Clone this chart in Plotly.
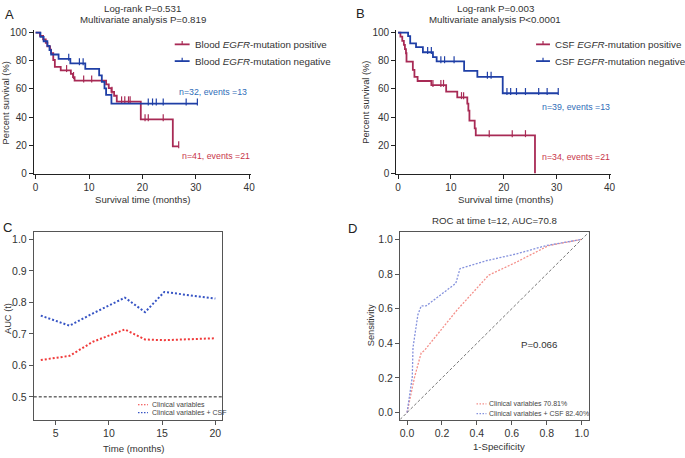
import plotly.graph_objects as go

W, H = 685, 458
FONT = "Liberation Sans, Arial, sans-serif"

# ---------------- Panel A data (Blood) ----------------
a_pos_t = [0, 0.8, 1.4, 1.9, 2.2, 2.7, 2.9, 3.3, 3.6, 4.7, 6.6, 7.0, 7.3, 13.2, 13.7, 14.2, 14.7, 15.2, 19.7, 25.7]
a_pos_s = [100, 97.6, 95.1, 92.7, 90.2, 87.8, 85.4, 80.5, 75.6, 73.2, 70.7, 68.3, 65.8, 63.2, 60.5, 57.8, 55.1, 51.0, 38.3, 19.1]
a_pos_end = 26.8
a_pos_cens = [5.8, 7.1, 9.0, 10.5, 14.3, 16.1, 16.7, 17.4, 17.7, 20.5, 21.1, 23.9, 26.8]

a_neg_t = [0, 0.9, 1.5, 2.2, 2.6, 2.9, 4.3, 6.5, 9.3, 11.9, 12.4, 12.9, 13.2, 14.2]
a_neg_s = [100, 96.9, 93.8, 90.6, 87.5, 84.4, 81.3, 78.1, 74.2, 69.6, 65.0, 60.3, 55.7, 49.5]
a_neg_end = 30.3
a_neg_cens = [6.2, 8.2, 8.9, 21.1, 21.9, 22.6, 23.9, 28.2, 30.3]

# ---------------- Panel B data (CSF) ----------------
b_pos_t = [0, 0.45, 0.8, 1.1, 1.3, 1.5, 1.6, 2.8, 3.1, 3.7, 6.3, 9.1, 11.2, 13.1, 13.3, 13.5, 14.5, 14.7, 25.9]
b_pos_s = [100, 97.1, 94.1, 91.2, 88.2, 85.3, 79.4, 73.5, 68.5, 65.6, 62.7, 58.0, 54.0, 49.5, 44.5, 37.4, 32.0, 27.0, 0]
b_pos_end = 25.9
b_pos_cens = [6.6, 8.1, 8.6, 12.0, 12.4, 17.25, 21.6, 24.1]

b_neg_t = [0, 1.9, 2.3, 3.4, 4.7, 6.6, 7.3, 12.5, 15.0, 19.8]
b_neg_s = [100, 97.4, 92.3, 89.7, 86.0, 82.5, 79.5, 72.8, 68.5, 56.9]
b_neg_end = 30.3
b_neg_cens = [5.6, 6.3, 8.1, 8.8, 10.6, 16.9, 17.6, 20.6, 21.3, 22.4, 24.1, 26.6, 28.2, 30.3]

# ---------------- Panel C data (time-dependent AUC) ----------------
c_time = [3.6, 6.3, 8.5, 11.5, 13.4, 15.2, 20.0]
c_auc_clin = [0.617, 0.630, 0.675, 0.714, 0.682, 0.680, 0.686]
c_auc_csf = [0.758, 0.726, 0.765, 0.815, 0.769, 0.833, 0.812]

# ---------------- Panel D data (ROC at t=12) ----------------
d_fpr_clin = [0.0, 0.043, 0.081, 0.098, 0.288, 0.467, 0.627, 0.81, 1.0]
d_tpr_clin = [0.0, 0.205, 0.345, 0.357, 0.594, 0.793, 0.869, 0.964, 1.0]
d_fpr_csf = [0.0, 0.03, 0.034, 0.062, 0.081, 0.109, 0.279, 0.303, 0.458, 0.627, 0.795, 1.0]
d_tpr_csf = [0.0, 0.205, 0.375, 0.565, 0.616, 0.616, 0.746, 0.831, 0.878, 0.916, 0.964, 1.0]

RED_KM = "#A82A55"
BLUE_KM = "#1F3FA6"
RED_TXT = "#C8364A"
BLUE_TXT = "#2F6DB8"
RED_C = "#F03A3A"
BLUE_C = "#3654C4"
RED_D = "#F4908A"
BLUE_D = "#8592DD"


def px(x):
    return x / W


def py(y):
    return 1 - y / H


def step_at(ts, ss, t):
    v = ss[0]
    for ti, si in zip(ts, ss):
        if ti <= t:
            v = si
    return v


fig = go.Figure()


def km(ts, ss, end, cens, color, xa, ya):
    xs = list(ts) + [end]
    ys = list(ss) + [ss[-1]]
    fig.add_trace(go.Scatter(x=xs, y=ys, mode="lines", line=dict(color=color, width=1.8, shape="hv"),
                             xaxis=xa, yaxis=ya, showlegend=False, cliponaxis=False))
    cy = [step_at(ts, ss, c) + 1.2 for c in cens]
    fig.add_trace(go.Scatter(x=cens, y=cy, mode="markers",
                             marker=dict(symbol="line-ns", size=5, line=dict(color=color, width=1.2)),
                             xaxis=xa, yaxis=ya, showlegend=False, cliponaxis=False))


km(a_pos_t, a_pos_s, a_pos_end, a_pos_cens, RED_KM, "x", "y")
km(a_neg_t, a_neg_s, a_neg_end, a_neg_cens, BLUE_KM, "x", "y")
km(b_pos_t, b_pos_s, b_pos_end, b_pos_cens, RED_KM, "x2", "y2")
km(b_neg_t, b_neg_s, b_neg_end, b_neg_cens, BLUE_KM, "x2", "y2")

# Panel C
fig.add_trace(go.Scatter(x=c_time, y=c_auc_clin, mode="lines", line=dict(color=RED_C, width=2, dash="2px,2px"),
                         xaxis="x3", yaxis="y3", showlegend=False))
fig.add_trace(go.Scatter(x=c_time, y=c_auc_csf, mode="lines", line=dict(color=BLUE_C, width=2, dash="2px,2px"),
                         xaxis="x3", yaxis="y3", showlegend=False))

# Panel D
fig.add_trace(go.Scatter(x=d_fpr_clin, y=d_tpr_clin, mode="lines", line=dict(color=RED_D, width=1.3, dash="2px,1.5px"),
                         xaxis="x4", yaxis="y4", showlegend=False))
fig.add_trace(go.Scatter(x=d_fpr_csf, y=d_tpr_csf, mode="lines", line=dict(color=BLUE_D, width=1.3, dash="2px,1.5px"),
                         xaxis="x4", yaxis="y4", showlegend=False))

tickfont = dict(family=FONT, size=10, color="#333")
tickfont2 = dict(family=FONT, size=10.5, color="#333")

km_x = dict(showgrid=False, zeroline=False, showline=True, linecolor="#222", linewidth=1,
            ticks="outside", ticklen=4, tickwidth=1, tickcolor="#222", tickfont=tickfont,
            tickvals=[0, 10, 20, 30, 40], range=[-0.35, 40.3])
km_y = dict(showgrid=False, zeroline=False, showline=True, linecolor="#222", linewidth=1,
            ticks="outside", ticklen=4, tickwidth=1, tickcolor="#222", tickfont=tickfont,
            tickvals=[0, 20, 40, 60, 80, 100], range=[-0.8, 101.5])

box = dict(showgrid=False, zeroline=False, showline=True, linecolor="#555", linewidth=1, mirror=True,
           ticks="outside", ticklen=4, tickwidth=1, tickcolor="#555", tickfont=tickfont2)

ya_bot = py(173 + 0.8 * 1.43)
ya_top = py(173 - 101.5 * 1.43)

fig.update_layout(
    width=W, height=H, margin=dict(l=0, r=0, t=0, b=0),
    paper_bgcolor="white", plot_bgcolor="white",
    font=dict(family=FONT, color="#333"),
    xaxis=dict(km_x, domain=[px(33), px(251.6)], anchor="y"),
    yaxis=dict(km_y, domain=[ya_bot, ya_top], anchor="x"),
    xaxis2=dict(km_x, domain=[px(398.1), px(614.6)], anchor="y2"),
    yaxis2=dict(km_y, domain=[ya_bot, ya_top], anchor="x2"),
    xaxis3=dict(box, domain=[px(33), px(223)], range=[2.94, 20.66], tickvals=[5, 10, 15, 20], anchor="y3"),
    yaxis3=dict(box, domain=[py(423), py(233)], range=[0.428, 1.022],
                tickvals=[0.5, 0.6, 0.7, 0.8, 0.9, 1.0], tickformat=".1f", anchor="x3"),
    xaxis4=dict(box, domain=[px(402), px(592)], range=[-0.04, 1.04],
                tickvals=[0, 0.2, 0.4, 0.6, 0.8, 1.0], tickformat=".1f", anchor="y4"),
    yaxis4=dict(box, domain=[py(423), py(233)], range=[-0.04, 1.04],
                tickvals=[0, 0.2, 0.4, 0.6, 0.8, 1.0], tickformat=".1f", anchor="x4"),
)

shapes = []
shapes.append(dict(type="line", xref="x3 domain", yref="y3", x0=0, x1=1, y0=0.5, y1=0.5,
                   line=dict(color="#222", width=1, dash="3px,2px")))
shapes.append(dict(type="line", xref="x4", yref="y4", x0=-0.04, x1=1.04, y0=-0.04, y1=1.04,
                   line=dict(color="#777", width=1, dash="3px,2px")))

ann = []


def text(x, y, s, size=10, color="#333", xanchor="center", yanchor="middle", angle=0):
    ann.append(dict(x=px(x), y=py(y), xref="paper", yref="paper", text=s, showarrow=False,
                    font=dict(family=FONT, size=size, color=color), xanchor=xanchor, yanchor=yanchor,
                    textangle=angle))


def legend_line(x0, x1, y, color, tick=False, dash=None, width=1.8):
    ln = dict(color=color, width=width)
    if dash:
        ln["dash"] = dash
    shapes.append(dict(type="line", xref="paper", yref="paper", x0=px(x0), x1=px(x1), y0=py(y), y1=py(y), line=ln))
    if tick:
        xm = (x0 + x1) / 2
        shapes.append(dict(type="line", xref="paper", yref="paper", x0=px(xm), x1=px(xm), y0=py(y), y1=py(y - 3.5),
                           line=dict(color=color, width=1.2)))


# Panel letters
text(9, 12, "A", size=13, color="#222")
text(362, 11, "B", size=13, color="#222")
text(7, 228, "C", size=13, color="#222")
text(354, 229, "D", size=13, color="#222")

LEG = 9.8
NTXT = 8.8
AX = 9.6

# Panel A
text(143, 6, "Log-rank P=0.531", size=9.7)
text(143, 17, "Multivariate analysis P=0.819", size=9.7)
legend_line(175, 190, 42, RED_KM, tick=True)
legend_line(175, 190, 59, BLUE_KM, tick=True)
text(193, 42, "Blood <i>EGFR</i>-mutation positive", size=LEG, xanchor="left")
text(193, 59, "Blood <i>EGFR</i>-mutation negative", size=LEG, xanchor="left")
text(177, 90, "n=32, events =13", size=NTXT, color=BLUE_TXT, xanchor="left")
text(180, 155, "n=41, events =21", size=NTXT, color=RED_TXT, xanchor="left")
text(143, 200, "Survival time (months)", size=AX)
text(5, 101, "Percent survival (%)", size=9.3, angle=-90)

# Panel B
text(498, 6, "Log-rank P=0.003", size=9.7)
text(498, 17, "Multivariate analysis P<0.0001", size=9.7)
legend_line(539, 553, 42, RED_KM, tick=True)
legend_line(539, 553, 59, BLUE_KM, tick=True)
text(556, 42, "CSF <i>EGFR</i>-mutation positive", size=LEG, xanchor="left")
text(556, 59, "CSF <i>EGFR</i>-mutation negative", size=LEG, xanchor="left")
text(543, 106, "n=39, events =13", size=NTXT, color=BLUE_TXT, xanchor="left")
text(543, 156, "n=34, events =21", size=NTXT, color=RED_TXT, xanchor="left")
text(508, 200, "Survival time (months)", size=AX)
text(368, 101, "Percent survival (%)", size=9.3, angle=-90)

# Panel C
text(133, 452, "Time (months)", size=AX)
text(7, 320, "AUC (t)", size=9.3, angle=-90)
legend_line(138, 148, 408, RED_C, dash="1.5px,1.5px", width=1.2)
legend_line(138, 148, 416, BLUE_C, dash="1.5px,1.5px", width=1.2)
text(150, 408, "Clinical variables", size=7, color="#444", xanchor="left")
text(150, 416, "Clinical variables + CSF", size=7, color="#444", xanchor="left")

# Panel D
text(497, 221, "ROC at time t=12, AUC=70.8", size=9.7)
text(502, 450, "1-Specificity", size=AX)
text(373, 327, "Sensitivity", size=9.3, angle=-90)
text(542, 347, "P=0.066", size=9.7)
legend_line(479, 489, 407, RED_D, dash="1.5px,1.5px", width=1.2)
legend_line(479, 489, 417, BLUE_D, dash="1.5px,1.5px", width=1.2)
text(490, 407, "Clinical variables 70.81%", size=7, color="#444", xanchor="left")
text(490, 417, "Clinical variables + CSF 82.40%", size=7, color="#444", xanchor="left")

fig.update_layout(shapes=shapes, annotations=ann)
fig.write_html("out.html", config={"displayModeBar": False, "staticPlot": True},
               post_script="document.body.style.margin='0px';document.body.style.overflow='hidden';")
